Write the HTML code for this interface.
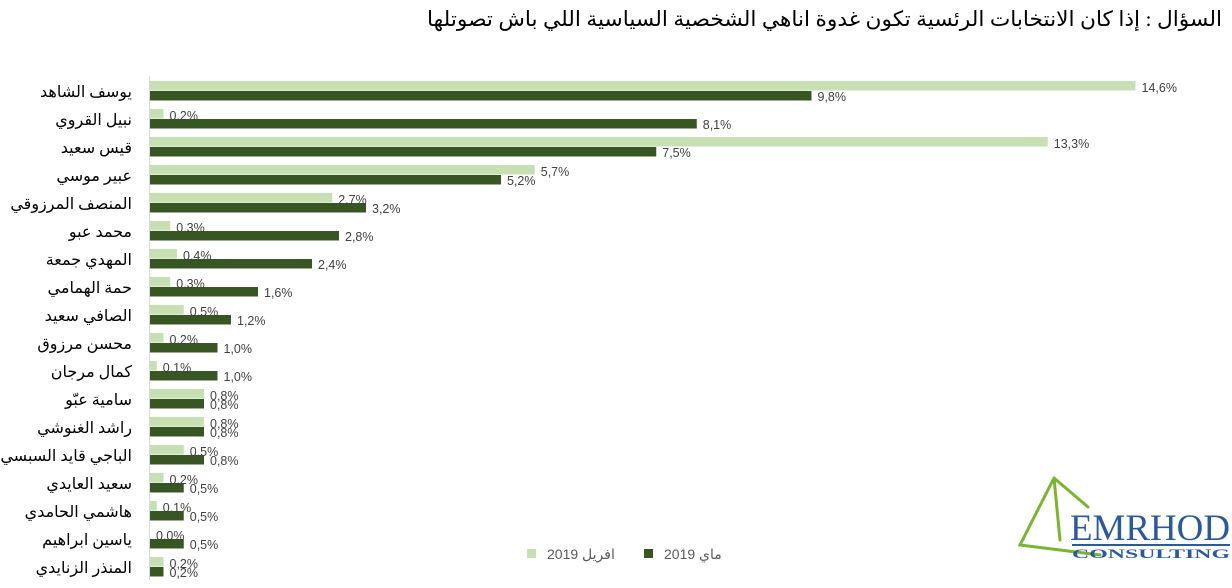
<!DOCTYPE html>
<html><head><meta charset="utf-8"><style>
body{margin:0;background:#fff;}
svg{display:block;}
</style></head><body>
<svg width="1232" height="588" xmlns="http://www.w3.org/2000/svg" font-family="'Liberation Sans','DejaVu Sans',sans-serif">
<rect width="1232" height="588" fill="#fff"/>
<text x="1222" y="26" text-anchor="end" font-family="'Liberation Serif','DejaVu Sans',serif" font-size="21" fill="#000" textLength="795" lengthAdjust="spacingAndGlyphs">السؤال : إذا كان الانتخابات الرئسية  تكون غدوة اناهي الشخصية السياسية اللي باش تصوتلها</text>
<line x1="149.5" y1="76" x2="149.5" y2="580" stroke="#d9d9d9" stroke-width="1"/>
<g id="rows"></g>
<rect x="527" y="549" width="9" height="9" fill="#c6e0b4"/>
<text x="547" y="559" font-size="14" fill="#595959">2019 افريل</text>
<rect x="644" y="549" width="9" height="9" fill="#375623"/>
<text x="664" y="559" font-size="14" fill="#595959">2019 ماي</text>
<g>
<path d="M1054 478 L1020 545 L1100 555 M1054 478 L1060 540 M1054 478 L1088 507" stroke="#7ab52f" stroke-width="3" fill="none" stroke-linecap="round"/>
<text x="1070" y="540" font-family="'Liberation Serif',serif" font-size="37" fill="#2a5a9c" textLength="160" lengthAdjust="spacingAndGlyphs">EMRHOD</text>
<line x1="1072" y1="545" x2="1230" y2="545" stroke="#2a5a9c" stroke-width="2"/>
<text x="1072" y="558" font-family="'Liberation Serif',serif" font-size="13" font-weight="bold" fill="#2a5a9c" textLength="158" lengthAdjust="spacingAndGlyphs">CONSULTING</text>
</g>
</svg>
<script>
var d=[["يوسف الشاهد",14.6,9.8],["نبيل القروي",0.2,8.1],["قيس سعيد",13.3,7.5],["عبير موسي",5.7,5.2],["المنصف المرزوقي",2.7,3.2],["محمد عبو",0.3,2.8],["المهدي جمعة",0.4,2.4],["حمة الهمامي",0.3,1.6],["الصافي سعيد",0.5,1.2],["محسن مرزوق",0.2,1.0],["كمال مرجان",0.1,1.0],["سامية عبّو",0.8,0.8],["راشد الغنوشي",0.8,0.8],["الباجي قايد السبسي",0.5,0.8],["سعيد العايدي",0.2,0.5],["هاشمي الحامدي",0.1,0.5],["ياسين ابراهيم",0.0,0.5],["المنذر الزنايدي",0.2,0.2]];
var g=document.getElementById('rows'),s='',k=67.5;
function f(v){return v.toFixed(1).replace('.',',')+'%';}
d.forEach(function(r,i){var y=81+28*i;var w1=r[1]*k,w2=r[2]*k;
s+='<rect x="150" y="'+y+'" width="'+w1+'" height="9.5" fill="#c6e0b4"/>';
s+='<rect x="150" y="'+(y+10)+'" width="'+w2+'" height="9.5" fill="#375623"/>';
s+='<text x="'+(150+w1+6)+'" y="'+(y+11)+'" font-size="12.5" fill="#404040">'+f(r[1])+'</text>';
s+='<text x="'+(150+w2+6)+'" y="'+(y+20)+'" font-size="12.5" fill="#404040">'+f(r[2])+'</text>';
s+='<text x="132" y="'+(y+16)+'" text-anchor="end" font-family="\'Liberation Serif\',\'DejaVu Sans\',serif" font-size="16" fill="#000">'+r[0]+'</text>';
});
g.innerHTML=s;
</script>
</body></html>
